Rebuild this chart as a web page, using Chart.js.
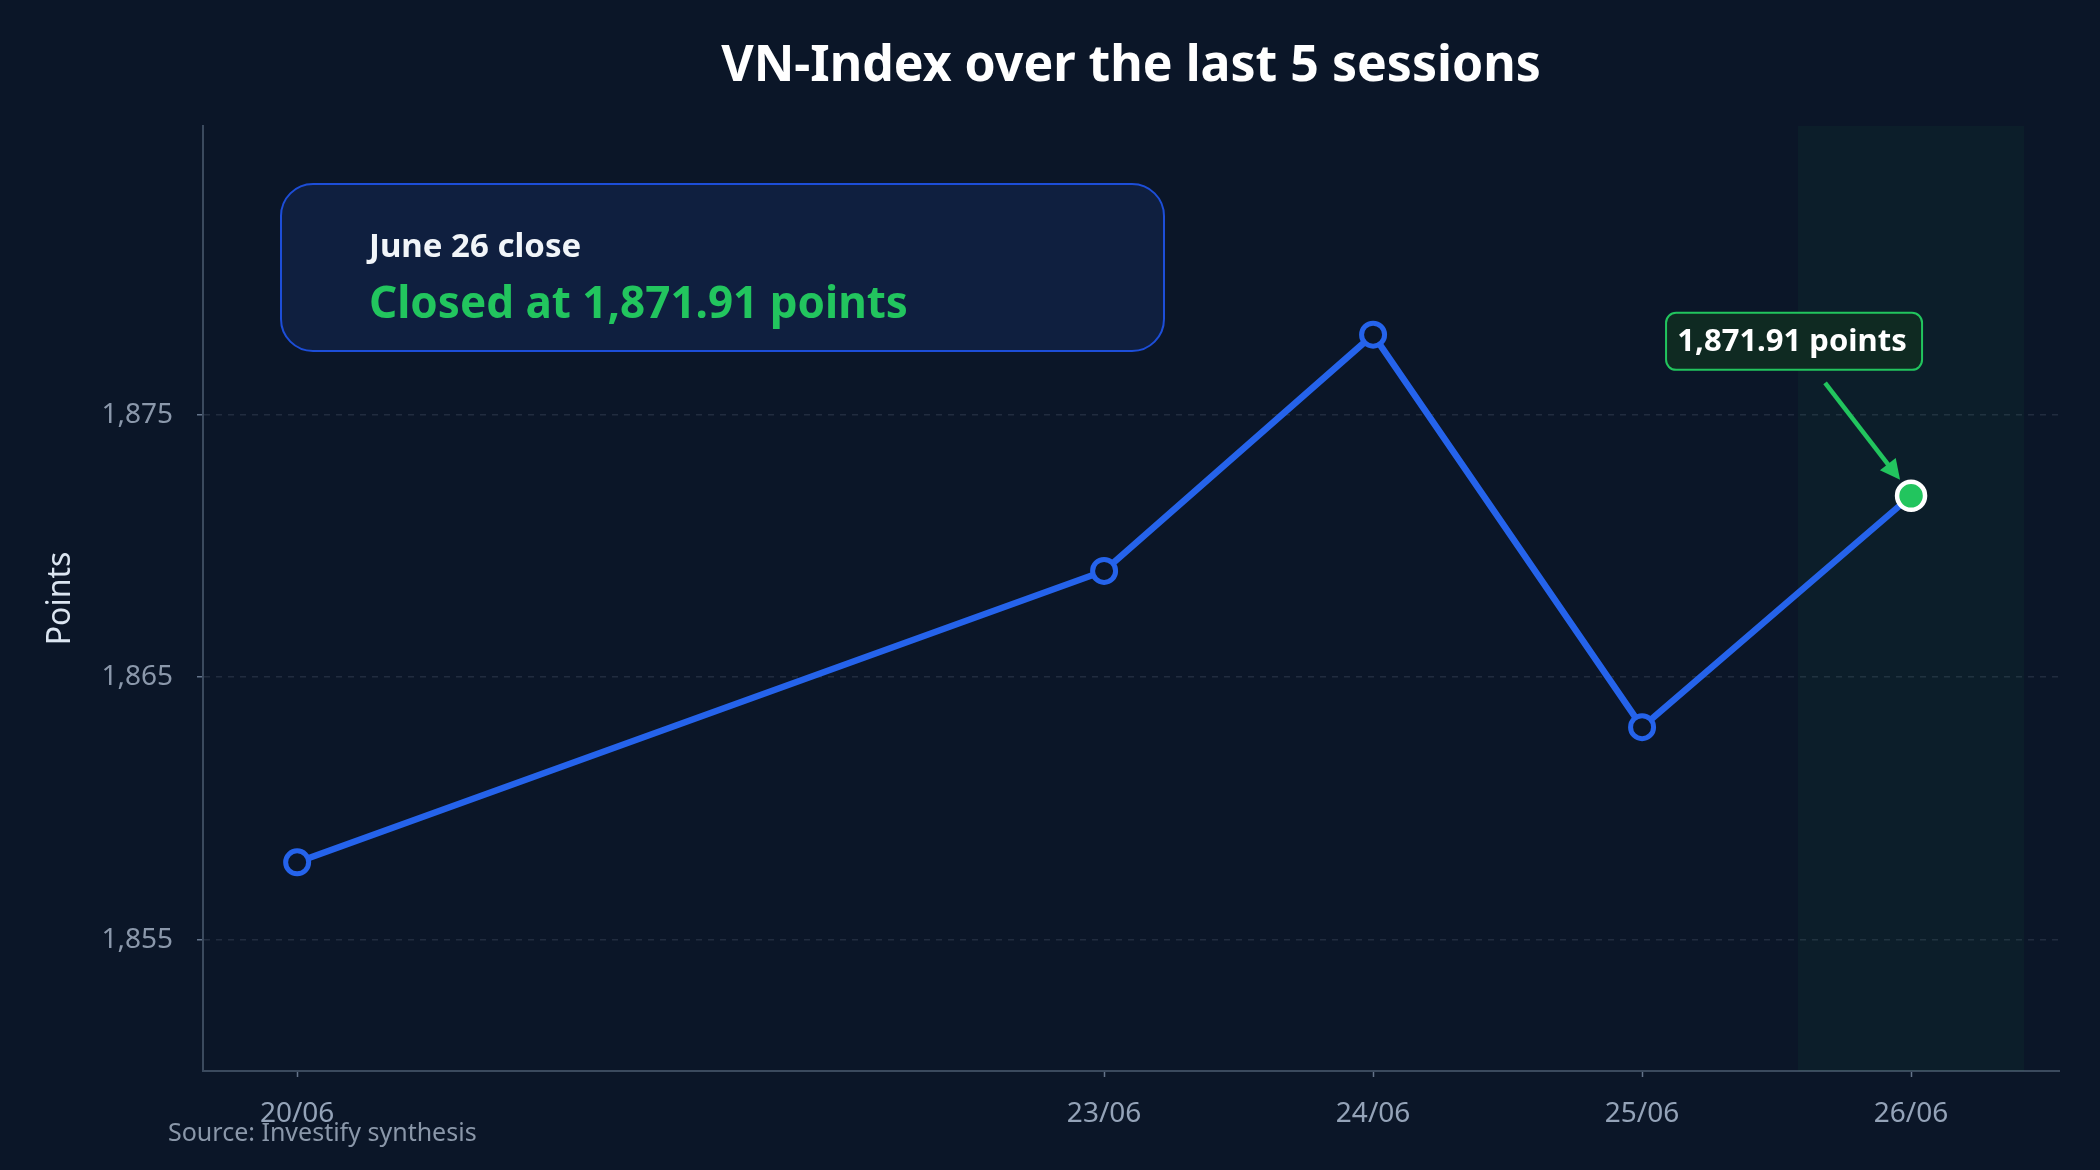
<!DOCTYPE html>
<html>
<head>
<meta charset="utf-8">
<script src="https://cdn.jsdelivr.net/npm/chart.js@4.4.1/dist/chart.umd.min.js"></script>
<style>
  html, body { margin: 0; padding: 0; background: #0b1628; }
  #wrap { width: 2100px; height: 1170px; }
</style>
</head>
<body>
<div id="wrap"><canvas id="vnChart" width="2100" height="1170"></canvas></div>
<script>
// Sessions (day of June), labels and closing values
const sessionDays = [20, 23, 24, 25, 26];
const sessionLabels = ['20/06', '23/06', '24/06', '25/06', '26/06'];
const closeValues = [1857.95, 1869.05, 1878.05, 1863.1, 1871.91];
const yTickValues = [1855, 1865, 1875];

const FONT = '"Noto Sans", "Open Sans", sans-serif';
const GREEN = '#22c55e';
const BLUE = '#2563eb';
const BG = '#0b1628';

const last = closeValues.length - 1;

// Background, highlight band and annotations
const overlayPlugin = {
    id: 'overlay',
    beforeDraw(chart) {
        const ctx = chart.ctx;
        ctx.save();
        ctx.fillStyle = BG;
        ctx.fillRect(0, 0, chart.width, chart.height);
        ctx.restore();
    },
    beforeDatasetsDraw(chart) {
        const {ctx, chartArea, scales} = chart;
        const x1 = scales.x.getPixelForValue(sessionDays[last] - 0.42);
        const x2 = scales.x.getPixelForValue(sessionDays[last] + 0.42);
        ctx.save();
        ctx.fillStyle = 'rgba(34, 197, 94, 0.05)';
        ctx.fillRect(x1, chartArea.top, x2 - x1, chartArea.bottom - chartArea.top);
        ctx.restore();
    },
    afterDraw(chart) {
        const ctx = chart.ctx;
        ctx.save();

        // summary box
        ctx.beginPath();
        ctx.roundRect(281, 184, 883, 167, 32);
        ctx.fillStyle = '#0f1f3f';
        ctx.fill();
        ctx.lineWidth = 2;
        ctx.strokeStyle = '#1d4ed8';
        ctx.stroke();

        ctx.textAlign = 'left';
        ctx.textBaseline = 'alphabetic';
        ctx.fillStyle = '#f1f5f9';
        ctx.font = 'bold 33px ' + FONT;
        ctx.fillText('June 26 close', 369, 257);
        ctx.fillStyle = GREEN;
        ctx.font = 'bold 44px ' + FONT;
        ctx.fillText('Closed at 1,871.91 points', 369, 318);

        // callout for last point
        const pt = chart.getDatasetMeta(0).data[last];
        const bx = pt.x - 245, by = pt.y - 183, bw = 256, bh = 57;
        ctx.beginPath();
        ctx.roundRect(bx, by, bw, bh, 10);
        ctx.fillStyle = '#0f2a22';
        ctx.fill();
        ctx.lineWidth = 2;
        ctx.strokeStyle = GREEN;
        ctx.stroke();
        ctx.fillStyle = '#ffffff';
        ctx.font = 'bold 31px ' + FONT;
        ctx.textAlign = 'center';
        ctx.textBaseline = 'middle';
        ctx.fillText('1,871.91 points', bx + bw / 2 - 2, by + bh / 2 + 1);

        // arrow
        const ax1 = pt.x - 86, ay1 = pt.y - 113;
        const ax2 = pt.x - 11, ay2 = pt.y - 16;
        const ang = Math.atan2(ay2 - ay1, ax2 - ax1);
        ctx.strokeStyle = GREEN;
        ctx.fillStyle = GREEN;
        ctx.lineWidth = 4.5;
        ctx.beginPath();
        ctx.moveTo(ax1, ay1);
        ctx.lineTo(ax2 - 14 * Math.cos(ang), ay2 - 14 * Math.sin(ang));
        ctx.stroke();
        ctx.beginPath();
        ctx.moveTo(ax2, ay2);
        ctx.lineTo(ax2 - 20 * Math.cos(ang) + 10 * Math.sin(ang), ay2 - 20 * Math.sin(ang) - 10 * Math.cos(ang));
        ctx.lineTo(ax2 - 20 * Math.cos(ang) - 10 * Math.sin(ang), ay2 - 20 * Math.sin(ang) + 10 * Math.cos(ang));
        ctx.closePath();
        ctx.fill();

        // source
        ctx.fillStyle = '#8a97a9';
        ctx.font = '25px ' + FONT;
        ctx.textAlign = 'left';
        ctx.textBaseline = 'alphabetic';
        ctx.fillText('Source: Investify synthesis', 168, 1141);

        ctx.restore();
    }
};

const ctx = document.getElementById('vnChart').getContext('2d');
new Chart(ctx, {
    type: 'line',
    data: {
        datasets: [{
            label: 'VN-Index',
            data: sessionDays.map((d, i) => ({x: d, y: closeValues[i]})),
            borderColor: BLUE,
            borderWidth: 6.5,
            tension: 0,
            fill: false,
            pointRadius: closeValues.map((v, i) => i === last ? 14 : 11.5),
            pointBorderWidth: closeValues.map((v, i) => i === last ? 4.5 : 5),
            pointBackgroundColor: closeValues.map((v, i) => i === last ? GREEN : BG),
            pointBorderColor: closeValues.map((v, i) => i === last ? '#ffffff' : BLUE),
            pointHoverRadius: 12
        }]
    },
    options: {
        responsive: false,
        devicePixelRatio: 1,
        animation: false,
        layout: {
            padding: {left: 0, right: 41, top: 0, bottom: 0}
        },
        plugins: {
            legend: {display: false},
            tooltip: {enabled: false},
            title: {
                display: true,
                fullSize: false,
                text: 'VN-Index over the last 5 sessions',
                color: '#ffffff',
                font: {family: FONT, size: 50, weight: 'bold', lineHeight: 1.2},
                padding: {top: 37, bottom: 29}
            }
        },
        scales: {
            x: {
                type: 'linear',
                min: 19.65,
                max: 26.55,
                afterBuildTicks: (axis) => {
                    axis.ticks = sessionDays.map(v => ({value: v}));
                },
                afterFit: (scale) => { scale.height = 99; },
                ticks: {
                    color: '#94a3b8',
                    font: {family: FONT, size: 28},
                    padding: 20,
                    maxRotation: 0,
                    autoSkip: false,
                    callback: (value) => sessionLabels[sessionDays.indexOf(value)]
                },
                grid: {
                    drawOnChartArea: false,
                    drawTicks: true,
                    tickLength: 6,
                    tickColor: '#64748b',
                    tickWidth: 1.5
                },
                border: {color: '#3b4a5e', width: 2}
            },
            y: {
                min: 1850,
                max: 1886,
                afterBuildTicks: (axis) => {
                    axis.ticks = yTickValues.map(v => ({value: v}));
                },
                afterFit: (scale) => { scale.width = 203; },
                ticks: {
                    color: '#8b98ab',
                    font: {family: FONT, size: 28},
                    padding: 24,
                    callback: (value) => value.toLocaleString('en-US')
                },
                title: {
                    display: true,
                    text: 'Points',
                    color: '#dbe5f1',
                    font: {family: FONT, size: 32},
                    padding: {top: 42, bottom: 0}
                },
                grid: {
                    color: 'rgba(148, 163, 184, 0.16)',
                    lineWidth: 1.5,
                    tickLength: 6,
                    tickColor: '#64748b',
                    tickWidth: 1.5
                },
                border: {color: '#3b4a5e', width: 2, dash: [6, 6]}
            }
        }
    },
    plugins: [overlayPlugin]
});
</script>
</body>
</html>
